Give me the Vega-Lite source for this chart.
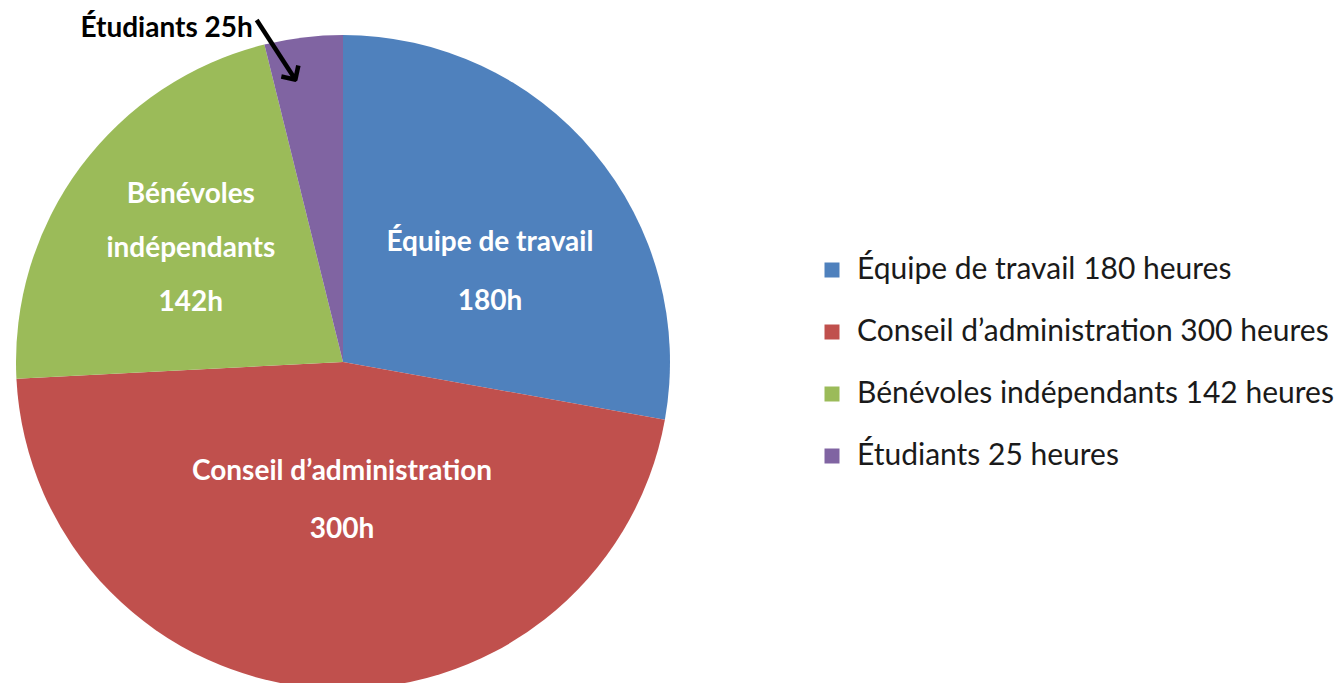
{
  "$schema": "https://vega.github.io/schema/vega-lite/v6.json",
  "width": 686,
  "height": 724,
  "padding": 0,
  "autosize": {"type": "pad"},
  "background": "white",
  "view": {"stroke": null},
  "config": {"font": "Lato"},
  "data": {
    "values": [
      {"rang": 1, "categorie": "Équipe de travail", "heures": 180, "legende": "Équipe de travail 180 heures", "etiquette": "Équipe de travail\n180h"},
      {"rang": 2, "categorie": "Conseil d’administration", "heures": 300, "legende": "Conseil d’administration 300 heures", "etiquette": "Conseil d’administration\n300h"},
      {"rang": 3, "categorie": "Bénévoles indépendants", "heures": 142, "legende": "Bénévoles indépendants 142 heures", "etiquette": "Bénévoles\nindépendants\n142h"},
      {"rang": 4, "categorie": "Étudiants", "heures": 25, "legende": "Étudiants 25 heures", "etiquette": "Étudiants 25h"}
    ]
  },
  "encoding": {
    "theta": {"field": "heures", "type": "quantitative", "stack": true},
    "order": {"field": "rang", "type": "quantitative"}
  },
  "layer": [
    {
      "mark": {"type": "arc", "outerRadius": 327},
      "encoding": {
        "color": {
          "field": "legende",
          "type": "nominal",
          "sort": ["Équipe de travail 180 heures", "Conseil d’administration 300 heures", "Bénévoles indépendants 142 heures", "Étudiants 25 heures"],
          "scale": {
            "domain": ["Équipe de travail 180 heures", "Conseil d’administration 300 heures", "Bénévoles indépendants 142 heures", "Étudiants 25 heures"],
            "range": ["#4F81BD", "#C0504D", "#9BBB59", "#8064A2"]
          },
          "legend": {
            "title": null,
            "orient": "none",
            "legendX": 817,
            "legendY": 255,
            "symbolType": "square",
            "symbolSize": 225,
            "symbolStrokeWidth": 0,
            "labelFont": "Lato",
            "labelFontSize": 30,
            "labelColor": "#1a1a1a",
            "labelOffset": 10,
            "labelLimit": 700,
            "rowPadding": 32
          }
        }
      }
    },
    {
      "mark": {"type": "text", "radius": 172, "dx": 15, "dy": -9, "fontSize": 28, "fontWeight": "bold", "color": "white", "lineBreak": "\n", "lineHeight": 59, "baseline": "middle", "align": "center"},
      "encoding": {"text": {"condition": {"test": "datum.rang == 1", "field": "etiquette"}, "value": ""}}
    },
    {
      "mark": {"type": "text", "radius": 110, "dx": 6, "dy": 0, "fontSize": 28, "fontWeight": "bold", "color": "white", "lineBreak": "\n", "lineHeight": 58, "baseline": "middle", "align": "center"},
      "encoding": {"text": {"condition": {"test": "datum.rang == 2", "field": "etiquette"}, "value": ""}}
    },
    {
      "mark": {"type": "text", "radius": 192, "dx": 2, "dy": -53, "fontSize": 28, "fontWeight": "bold", "color": "white", "lineBreak": "\n", "lineHeight": 54, "baseline": "middle", "align": "center"},
      "encoding": {"text": {"condition": {"test": "datum.rang == 3", "field": "etiquette"}, "value": ""}}
    },
    {
      "mark": {"type": "text", "radius": 340, "dx": -49, "dy": 4, "fontSize": 28, "fontWeight": "bold", "color": "black", "baseline": "middle", "align": "right"},
      "encoding": {
        "text": {"condition": {"test": "datum.rang == 4", "field": "etiquette"}, "value": ""}
      }
    },
    {
      "mark": {"type": "text", "radius": 320, "dx": -10, "dy": 27, "font": "DejaVu Sans", "fontSize": 55, "angle": 57, "color": "black", "baseline": "middle", "align": "center"},
      "encoding": {
        "text": {"condition": {"test": "datum.rang == 4", "value": "⟶"}, "value": ""}
      }
    }
  ]
}
